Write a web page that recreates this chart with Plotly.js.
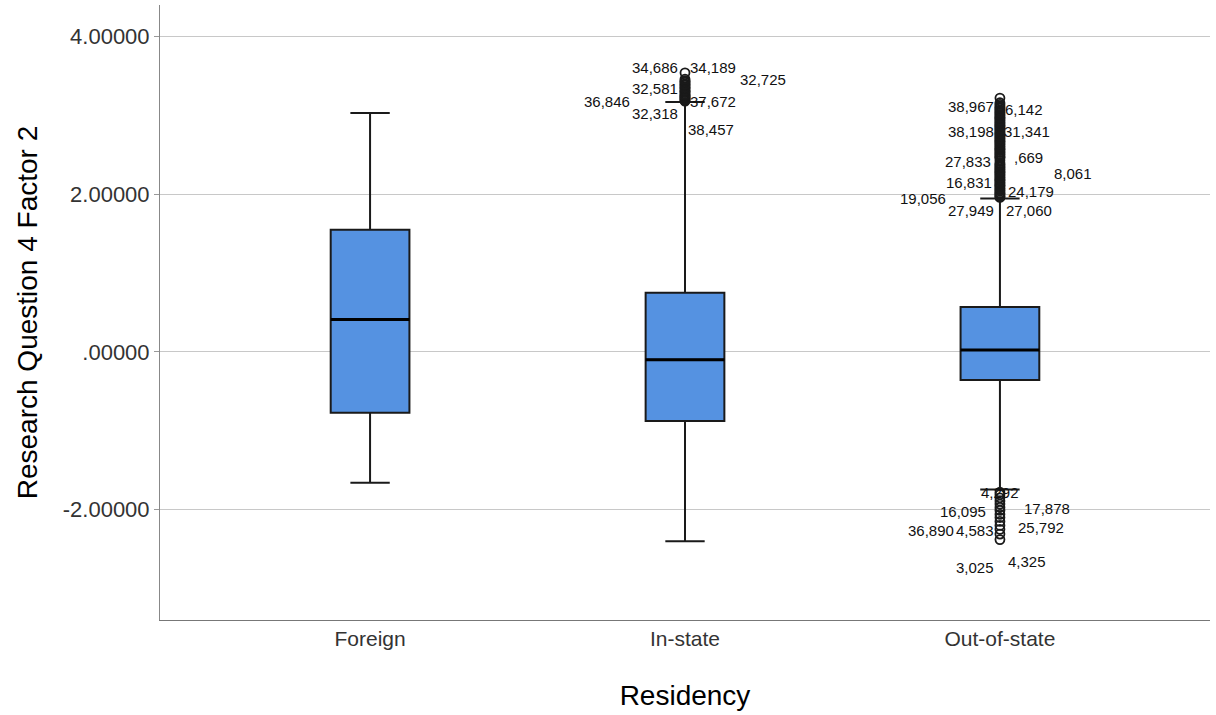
<!DOCTYPE html>
<html>
<head>
<meta charset="utf-8">
<script src="https://cdn.plot.ly/plotly-3.0.1.min.js"></script>
<style>html,body{margin:0;padding:0;background:#fff;}#chart{width:1216px;height:715px;}</style>
</head>
<body>
<div id="chart"></div>
<script>
// ---- data ----
const categories = ["Foreign", "In-state", "Out-of-state"];
const q1 = [-0.77, -0.875, -0.355];
const median = [0.41, -0.10, 0.025];
const q3 = [1.55, 0.75, 0.57];
const lowerFence = [-1.66, -2.40, -1.745];
const upperFence = [3.03, 3.17, 1.945];

const yTickVals = [-2, 0, 2, 4];
const yTickText = ["-2.00000", ".00000", "2.00000", "4.00000"];

// outliers
const inStateOutliers = [3.18, 3.19, 3.20, 3.21, 3.22, 3.23, 3.24, 3.25, 3.26, 3.27, 3.29, 3.30, 3.31, 3.32, 3.34, 3.35, 3.36, 3.38, 3.39, 3.40, 3.42, 3.43, 3.44, 3.46, 3.54];
const outStateHighOutliers = [1.96, 1.97, 1.98, 2.00, 2.01, 2.02, 2.04, 2.05, 2.07, 2.08, 2.10, 2.11, 2.12, 2.14, 2.15, 2.17, 2.18, 2.19, 2.21, 2.22,
  2.24, 2.25, 2.27, 2.28, 2.29, 2.31, 2.32, 2.34, 2.35, 2.37, 2.38, 2.40, 2.43, 2.46, 2.47, 2.48, 2.50, 2.51, 2.53, 2.54,
  2.56, 2.57, 2.58, 2.60, 2.61, 2.63, 2.64, 2.66, 2.67, 2.68, 2.70, 2.71, 2.73, 2.74, 2.76, 2.77, 2.78, 2.80, 2.81, 2.83,
  2.84, 2.86, 2.87, 2.88, 2.90, 2.91, 2.93, 2.94, 2.96, 2.97, 2.98, 3.00, 3.01, 3.03, 3.04, 3.06, 3.07, 3.09, 3.10, 3.12,
  3.14, 3.16, 3.22];
const outStateLowOutliers = [-1.78, -1.81, -1.85, -1.89, -1.93, -1.97, -2.01, -2.06, -2.10, -2.15, -2.20, -2.25, -2.31, -2.38];

// case labels next to outliers: text and the value level where each sits
const inStateLabelText = ["34,686", "34,189", "32,725", "32,581", "36,846", "37,672", "32,318", "38,457"];
const inStateLabelAt   = [3.61, 3.61, 3.45, 3.34, 3.18, 3.18, 3.03, 2.82];
const outStateLabelText = ["38,967", "6,142", "38,198", "31,341", "27,833", ",669", "16,831", "8,061", "19,056", "24,179", "27,949", "27,060",
  "4,292", "16,095", "17,878", "36,890", "4,583", "25,792", "3,025", "4,325"];
const outStateLabelAt = [3.11, 3.07, 2.79, 2.79, 2.42, 2.47, 2.15, 2.26, 1.95, 2.03, 1.79, 1.79,
  -1.78, -2.03, -1.98, -2.26, -2.26, -2.23, -2.74, -2.66];

// ---- layout helpers (pixel offsets of labels) ----
const inStateLabelShift = [-6, 4, 54, -6, -54, 4, -6, 2];
const outStateLabelShift = [-5, 4, -5, 3, -8, 13, -7, 53, -53, 7, -5, 5, 0, -13, 23, -45, -5, 17, -5, 7];

const FONT = "Liberation Sans, Arial, sans-serif";
const BOXW = 0.25;

const traces = [];
traces.push({
  type: "box",
  x: [0, 1, 2],
  q1: q1, median: median, q3: q3,
  lowerfence: lowerFence, upperfence: upperFence,
  width: BOXW,
  whiskerwidth: 0.5,
  fillcolor: "#5592E1",
  line: { color: "#1a1a1a", width: 2 },
  boxpoints: false,
  hoverinfo: "skip",
  showlegend: false
});

function outlierTrace(idx, vals) {
  return {
    type: "scatter", mode: "markers",
    x: vals.map(() => idx), y: vals,
    marker: { symbol: "circle-open", size: 9, color: "#1a1a1a", line: { width: 1.8, color: "#1a1a1a" } },
    hoverinfo: "skip", showlegend: false
  };
}
traces.push(outlierTrace(1, inStateOutliers));
traces.push(outlierTrace(2, outStateHighOutliers));
traces.push(outlierTrace(2, outStateLowOutliers));

const annotations = [];
function addLabels(idx, texts, at, shifts) {
  texts.forEach((t, i) => {
    const s = shifts[i];
    annotations.push({
      x: idx, y: at[i], xref: "x", yref: "y",
      text: t, showarrow: false,
      xanchor: s < 0 ? "right" : (s === 0 ? "center" : "left"),
      xshift: s, yanchor: "middle", borderpad: 0,
      font: { family: FONT, size: 15, color: "#111" }
    });
  });
}
addLabels(1, inStateLabelText, inStateLabelAt, inStateLabelShift);
addLabels(2, outStateLabelText, outStateLabelAt, outStateLabelShift);

const shapes = median.map((m, i) => ({
  type: "line", xref: "x", yref: "y",
  x0: i - BOXW / 2, x1: i + BOXW / 2, y0: m, y1: m,
  line: { color: "#000", width: 3 }
}));

const layout = {
  width: 1216, height: 715,
  margin: { l: 160, r: 6, t: 5, b: 95 },
  paper_bgcolor: "#fff", plot_bgcolor: "#fff",
  font: { family: FONT, color: "#333" },
  showlegend: false,
  xaxis: {
    range: [-0.667, 2.667],
    tickvals: [0, 1, 2], ticktext: categories,
    showgrid: false, zeroline: false,
    showline: true, linecolor: "#777", linewidth: 1,
    ticks: "", tickfont: { family: FONT, size: 21, color: "#333" },
    title: { text: "Residency", font: { family: FONT, size: 28, color: "#000" }, standoff: 36 }
  },
  yaxis: {
    range: [-3.40, 4.40],
    tickvals: yTickVals, ticktext: yTickText,
    showgrid: true, gridcolor: "#C8C8C8", gridwidth: 1,
    zeroline: false,
    showline: true, linecolor: "#888", linewidth: 1,
    ticks: "outside", ticklen: 5, tickcolor: "#999",
    tickfont: { family: FONT, size: 22, color: "#333" },
    title: { text: "Research Question 4 Factor 2", font: { family: FONT, size: 28, color: "#000" }, standoff: 16 }
  },
  annotations: annotations,
  shapes: shapes
};

Plotly.newPlot("chart", traces, layout, { staticPlot: true, displayModeBar: false });
</script>
</body>
</html>
